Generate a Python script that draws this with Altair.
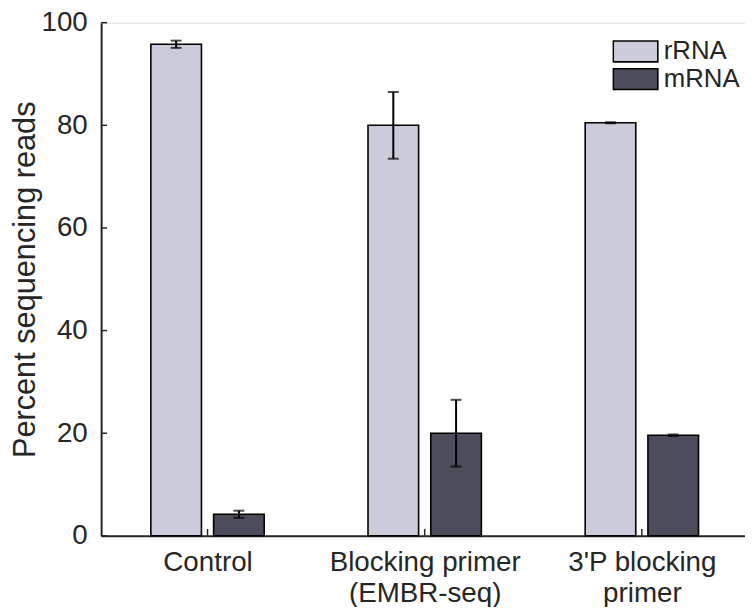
import json
import altair as alt
import pandas as pd

# ---- data ----
categories = ["Control", "Blocking primer (EMBR-seq)", "3'P blocking primer"]
category_lines = [["Control"], ["Blocking primer", "(EMBR-seq)"], ["3'P blocking", "primer"]]
category_pos = [1, 2, 3]
series = ["rRNA", "mRNA"]
rRNA_values = [95.8, 80.0, 80.5]
rRNA_errors = [0.7, 6.5, 0.1]
mRNA_values = [4.2, 20.0, 19.6]
mRNA_errors = [0.7, 6.5, 0.15]
y_ticks = [0, 20, 40, 60, 80, 100]
series_colors = ["#cbcbd9", "#4c4c5b"]

# ---- build table ----
rows = []
for i, cat in enumerate(categories):
    rows.append({"category": cat, "pos": category_pos[i], "series": "rRNA", "dodge": -1,
                 "value": rRNA_values[i], "err": rRNA_errors[i]})
    rows.append({"category": cat, "pos": category_pos[i], "series": "mRNA", "dodge": 1,
                 "value": mRNA_values[i], "err": mRNA_errors[i]})
df = pd.DataFrame(rows)
ytick_df = pd.DataFrame({"v": y_ticks})
xtick_df = pd.DataFrame({"p": category_pos})

OFFSET = 0.1445
HALF = 0.1165

label_expr = " : ".join(
    f"datum.value == {category_pos[i]} ? {json.dumps(lines)}" for i, lines in enumerate(category_lines)
) + " : ''"

FONT = "Liberation Sans"
AXC = "#262626"

x_scale = alt.Scale(domain=[0.51, 3.475], nice=False, zero=False)
y_scale = alt.Scale(domain=[0, 100], nice=False)

base = alt.Chart(df).transform_calculate(
    center=f"datum.pos + datum.dodge * {OFFSET}",
    x0=f"datum.pos + datum.dodge * {OFFSET} - {HALF}",
    x1=f"datum.pos + datum.dodge * {OFFSET} + {HALF}",
    lo="datum.value - datum.err",
    hi="datum.value + datum.err",
)

x_axis = alt.Axis(
    values=category_pos, labelExpr=label_expr, title=None, grid=False,
    domainColor=AXC, domainWidth=2, ticks=False, labelPadding=13,
    labelFont=FONT, labelFontSize=28, labelColor=AXC, labelLineHeight=31,
    labelBaseline="top", labelFlush=False, labelLimit=0,
)
y_axis = alt.Axis(
    values=y_ticks, title="Percent sequencing reads", grid=False,
    domainColor=AXC, domainWidth=2, ticks=False, labelPadding=14,
    labelFont=FONT, labelFontSize=28, labelColor=AXC, labelLimit=0,
    titleFont=FONT, titleFontSize=31, titleFontWeight="normal", titleColor=AXC,
    titleX=-67, titleY=259, titleAngle=270, titleAlign="center",
    titleBaseline="alphabetic",
)

bars = base.mark_bar(stroke="black", strokeWidth=1.6).encode(
    x=alt.X("x0:Q", scale=x_scale, axis=x_axis),
    x2="x1:Q",
    y=alt.Y("value:Q", scale=y_scale, axis=y_axis),
    y2=alt.datum(0),
    color=alt.Color(
        "series:N",
        scale=alt.Scale(domain=series, range=series_colors),
        legend=alt.Legend(
            title=None, orient="none", legendX=516, legendY=15,
            symbolType="M-1,-0.4667H1V0.4667H-1Z", symbolSize=2025,
            symbolStrokeColor="black", symbolStrokeWidth=1.6,
            symbolOpacity=1, clipHeight=28, rowPadding=0,
            labelFont=FONT, labelFontSize=26, labelColor=AXC, labelOffset=5,
        ),
    ),
)

err_rule = base.mark_rule(color="black", strokeWidth=2).encode(
    x=alt.X("center:Q", scale=x_scale),
    y=alt.Y("lo:Q", scale=y_scale),
    y2="hi:Q",
)
cap_lo = base.mark_tick(color="black", orient="horizontal", size=11, thickness=2).encode(
    x=alt.X("center:Q", scale=x_scale),
    y=alt.Y("lo:Q", scale=y_scale),
)
cap_hi = base.mark_tick(color="black", orient="horizontal", size=11, thickness=2).encode(
    x=alt.X("center:Q", scale=x_scale),
    y=alt.Y("hi:Q", scale=y_scale),
)

# inward-pointing axis ticks
y_ticks_layer = alt.Chart(ytick_df).mark_rule(color=AXC, strokeWidth=1.5).encode(
    y=alt.Y("v:Q", scale=y_scale),
    x=alt.value(0), x2=alt.value(6),
)
x_ticks_layer = alt.Chart(xtick_df).mark_rule(color=AXC, strokeWidth=1.5).encode(
    x=alt.X("p:Q", scale=x_scale),
    y=alt.value(518), y2=alt.value(511),
)

chart = alt.layer(bars, err_rule, cap_lo, cap_hi, y_ticks_layer, x_ticks_layer).properties(
    width=650, height=518,
    autosize=alt.AutoSizeParams(type="none"),
    padding={"left": 94, "top": 12, "right": 0, "bottom": 69},
).configure_view(stroke=None).configure(background="white")

chart.save("out.html", embed_options={"renderer": "svg", "actions": False})
